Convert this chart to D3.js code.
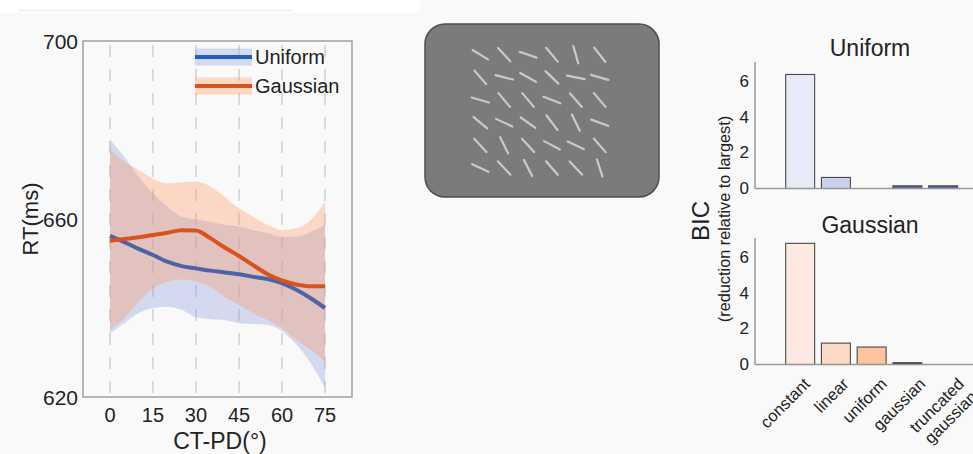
<!DOCTYPE html>
<html>
<head>
<meta charset="utf-8">
<script src="https://cdn.jsdelivr.net/npm/d3@7"></script>
<style>
  html, body { margin: 0; padding: 0; background: #f9f9f9; }
  svg { display: block; font-family: "Liberation Sans", Arial, sans-serif; }
</style>
</head>
<body>
<div id="chart"></div>
<script>
// ---- data: RT curves (CT-PD in degrees) ----
var ctpd = [0, 5, 10, 15, 20, 25, 30, 35, 40, 45, 50, 55, 60, 65, 70, 75];
var uniformMean  = [656.2, 654.8, 653.3, 651.9, 650.4, 649.4, 648.9, 648.4, 648.0, 647.6, 647.0, 646.5, 645.6, 644.1, 642.2, 640.0];
var uniformUpper = [677.8, 674.0, 669.5, 665.8, 662.8, 660.5, 659.9, 659.4, 658.7, 658.3, 657.5, 656.8, 656.0, 656.0, 657.1, 658.7];
var uniformLower = [634.3, 636.6, 638.8, 640.0, 640.3, 639.6, 637.9, 637.5, 637.3, 636.6, 636.4, 636.2, 634.8, 631.8, 627.6, 622.0];
var gaussianMean  = [655.1, 655.5, 655.9, 656.4, 656.9, 657.5, 657.4, 655.7, 653.6, 651.7, 649.6, 647.6, 646.2, 645.3, 644.9, 644.9];
var gaussianUpper = [675.7, 672.9, 671.0, 669.1, 668.0, 668.2, 668.4, 667.3, 665.0, 662.4, 660.5, 658.7, 657.5, 657.9, 659.8, 663.9];
var gaussianLower = [635.1, 637.7, 641.4, 644.4, 645.9, 646.4, 645.9, 644.8, 642.5, 640.7, 638.8, 637.3, 635.4, 632.8, 630.6, 627.9];
var xTicks = [0, 15, 30, 45, 60, 75];
var yTicks = [620, 660, 700];

// ---- data: stimulus orientations (deg from horizontal), 6 x 6 grid ----
var stimAngles = [
  [31, 47, 19, 50, 74, 52],
  [49, 14, 29, 44, 11, 16],
  [16, 50, 50, 21, 49, 50],
  [40, 25, 35, 53, 64, 20],
  [47, 64, 47, 28, 25, 49],
  [25, 47, 63, 49, 47, 72]
];

// ---- data: BIC bars ----
var models = ["constant", "linear", "uniform", "gaussian", "truncated gaussian"];
var uniformBIC  = [6.4, 0.62, 0, 0.15, 0.15];
var gaussianBIC = [6.8, 1.2, 0.98, 0.1, 0];
var bicTicks = [0, 2, 4, 6];

var uniformColors  = ["#e9eaf8", "#ccd2ee", "#9aa6d6", "#4d6198", "#4d6198"];
var gaussianColors = ["#fde9df", "#fddac6", "#fdc49e", "#3b2b26", "#3b2b26"];

var width = 973, height = 454;

var svg = d3.select("#chart").append("svg")
    .attr("width", width)
    .attr("height", height);

svg.append("rect").attr("width", width).attr("height", height).attr("fill", "#f9f9f9");
// white strip at the top left
svg.append("rect").attr("x", 0).attr("y", 0).attr("width", 420).attr("height", 13).attr("fill", "#ffffff");
svg.append("line").attr("x1", 18).attr("x2", 293).attr("y1", 10.5).attr("y2", 10.5)
    .attr("stroke", "#ececec").attr("stroke-width", 1.5);

// ================= left: RT curves =================
var x = d3.scaleLinear().domain([-9.4, 84.4]).range([83, 352]);
var y = d3.scaleLinear().domain([620, 700]).range([397, 41]);

var left = svg.append("g");

// dashed grid at the x ticks
left.selectAll(".grid")
    .data(xTicks)
    .enter().append("line")
    .attr("class", "grid")
    .attr("x1", function (d) { return x(d); })
    .attr("x2", function (d) { return x(d); })
    .attr("y1", y(700) + 4)
    .attr("y2", y(620))
    .attr("stroke", "#cfcfcf")
    .attr("stroke-width", 1.5)
    .attr("stroke-dasharray", "12,12");

function rows(mean, lo, hi) {
    return ctpd.map(function (c, i) {
        return { x: c, m: mean[i], lo: lo[i], hi: hi[i] };
    });
}
var uniRows = rows(uniformMean, uniformLower, uniformUpper);
var gauRows = rows(gaussianMean, gaussianLower, gaussianUpper);

var band = d3.area()
    .x(function (d) { return x(d.x); })
    .y0(function (d) { return y(d.lo); })
    .y1(function (d) { return y(d.hi); })
    .curve(d3.curveMonotoneX);

var meanLine = d3.line()
    .x(function (d) { return x(d.x); })
    .y(function (d) { return y(d.m); })
    .curve(d3.curveMonotoneX);

left.append("path").datum(uniRows).attr("d", band)
    .attr("fill", "rgb(139,159,221)").attr("fill-opacity", 0.35);
left.append("path").datum(gauRows).attr("d", band)
    .attr("fill", "rgb(255,153,101)").attr("fill-opacity", 0.35);

left.append("path").datum(uniRows).attr("d", meanLine)
    .attr("fill", "none").attr("stroke", "#4c63a6").attr("stroke-width", 4);
left.append("path").datum(gauRows).attr("d", meanLine)
    .attr("fill", "none").attr("stroke", "#d9531a").attr("stroke-width", 4);

// box
left.append("rect")
    .attr("x", x.range()[0]).attr("y", y(700))
    .attr("width", x.range()[1] - x.range()[0])
    .attr("height", y(620) - y(700))
    .attr("fill", "none").attr("stroke", "#9a9a9a").attr("stroke-width", 1.4);

// tick labels
left.selectAll(".xt").data(xTicks).enter().append("text")
    .attr("x", function (d) { return x(d); })
    .attr("y", 415)
    .attr("text-anchor", "middle")
    .attr("dominant-baseline", "central")
    .attr("font-size", 20)
    .attr("fill", "#222")
    .text(function (d) { return d; });

left.selectAll(".yt").data(yTicks).enter().append("text")
    .attr("x", 78)
    .attr("y", function (d) { return y(d); })
    .attr("text-anchor", "end")
    .attr("dominant-baseline", "central")
    .attr("font-size", 21)
    .attr("fill", "#222")
    .text(function (d) { return d; });

left.append("text")
    .attr("x", 220).attr("y", 441)
    .attr("text-anchor", "middle").attr("dominant-baseline", "central")
    .attr("font-size", 23).attr("fill", "#222")
    .text("CT-PD(°)");

left.append("text")
    .attr("transform", "translate(30," + y(660) + ") rotate(-90)")
    .attr("text-anchor", "middle").attr("dominant-baseline", "central")
    .attr("font-size", 22).attr("fill", "#222")
    .text("RT(ms)");

// legend
var legendItems = [
    { name: "Uniform", line: "#1f5fbf", fill: "rgb(139,159,221)", y: 57 },
    { name: "Gaussian", line: "#d9531a", fill: "rgb(255,153,101)", y: 86 }
];
var lg = left.selectAll(".lg").data(legendItems).enter().append("g");
lg.append("rect")
    .attr("x", 195).attr("width", 57)
    .attr("y", function (d) { return d.y - 8.5; }).attr("height", 17)
    .attr("fill", function (d) { return d.fill; }).attr("fill-opacity", 0.35);
lg.append("line")
    .attr("x1", 195).attr("x2", 252)
    .attr("y1", function (d) { return d.y; }).attr("y2", function (d) { return d.y; })
    .attr("stroke", function (d) { return d.line; }).attr("stroke-width", 4);
lg.append("text")
    .attr("x", 255).attr("y", function (d) { return d.y; })
    .attr("dominant-baseline", "central")
    .attr("font-size", 20).attr("fill", "#222")
    .text(function (d) { return d.name; });

// ================= middle: stimulus =================
var stim = svg.append("g");
stim.append("rect")
    .attr("x", 425).attr("y", 24).attr("width", 234).attr("height", 173)
    .attr("rx", 20).attr("ry", 20)
    .attr("fill", "#7b7b7b").attr("stroke", "#4e4e4e").attr("stroke-width", 1.5);

var sx = d3.scaleLinear().domain([0, 5]).range([480.3, 599.7]);
var sy = d3.scaleLinear().domain([0, 5]).range([54.7, 168]);
var segHalf = 9;

var segs = [];
stimAngles.forEach(function (row, r) {
    row.forEach(function (a, c) { segs.push({ r: r, c: c, a: a }); });
});

stim.selectAll(".seg").data(segs).enter().append("line")
    .attr("x1", function (d) { return sx(d.c) - segHalf * Math.cos(d.a * Math.PI / 180); })
    .attr("y1", function (d) { return sy(d.r) - segHalf * Math.sin(d.a * Math.PI / 180); })
    .attr("x2", function (d) { return sx(d.c) + segHalf * Math.cos(d.a * Math.PI / 180); })
    .attr("y2", function (d) { return sy(d.r) + segHalf * Math.sin(d.a * Math.PI / 180); })
    .attr("stroke", "#c9c9c9").attr("stroke-width", 2.2).attr("stroke-linecap", "round");

// ================= right: BIC bars =================
var bx = d3.scaleBand().domain(models).range([782.3, 961]).paddingInner(0.19).paddingOuter(0.095);
var labelX = d3.scalePoint().domain(models).range([807, 961]);

function barPanel(values, colors, top, title, titleY, withLabels) {
    var by = d3.scaleLinear().domain([0, 7.1]).range([top + 126.5, top]);
    var g = svg.append("g");

    g.selectAll(".bar")
        .data(models.map(function (m, i) { return { m: m, v: values[i], c: colors[i] }; })
            .filter(function (d) { return d.v > 0; }))
        .enter().append("rect")
        .attr("x", function (d) { return bx(d.m); })
        .attr("width", bx.bandwidth())
        .attr("y", function (d) { return by(d.v); })
        .attr("height", function (d) { return by(0) - by(d.v); })
        .attr("fill", function (d) { return d.c; })
        .attr("stroke", "#4a4a4a").attr("stroke-width", 1.1);

    g.append("line")
        .attr("x1", 755).attr("x2", 985)
        .attr("y1", by(0)).attr("y2", by(0))
        .attr("stroke", "#9a9a9a").attr("stroke-width", 1.5);
    g.append("line")
        .attr("x1", 755).attr("x2", 755)
        .attr("y1", by(7.1)).attr("y2", by(0))
        .attr("stroke", "#9a9a9a").attr("stroke-width", 1.5);

    g.selectAll(".bt").data(bicTicks).enter().append("text")
        .attr("x", 749)
        .attr("y", function (d) { return by(d); })
        .attr("text-anchor", "end").attr("dominant-baseline", "central")
        .attr("font-size", 17).attr("fill", "#222")
        .text(function (d) { return d; });

    g.append("text")
        .attr("x", 870).attr("y", titleY)
        .attr("text-anchor", "middle").attr("dominant-baseline", "central")
        .attr("font-size", 23).attr("fill", "#222")
        .text(title);

    if (withLabels) {
        var lbl = g.selectAll(".xl").data(models).enter().append("text")
            .attr("transform", function (d) { return "translate(" + labelX(d) + ",381) rotate(-45)"; })
            .attr("text-anchor", "end")
            .attr("font-size", 16.5).attr("fill", "#222");
        lbl.each(function (d) {
            var parts = d.split(" ");
            var t = d3.select(this);
            parts.forEach(function (p, i) {
                t.append("tspan").attr("x", 0).attr("dy", i === 0 ? "0.35em" : "1.1em").text(p);
            });
        });
    }
}

barPanel(uniformBIC, uniformColors, 62, "Uniform", 48, false);
barPanel(gaussianBIC, gaussianColors, 238, "Gaussian", 225, true);

svg.append("text")
    .attr("transform", "translate(700,221) rotate(-90)")
    .attr("text-anchor", "middle").attr("dominant-baseline", "central")
    .attr("font-size", 24).attr("fill", "#222")
    .text("BIC");
svg.append("text")
    .attr("transform", "translate(724,219) rotate(-90)")
    .attr("text-anchor", "middle").attr("dominant-baseline", "central")
    .attr("font-size", 16.3).attr("fill", "#222")
    .text("(reduction relative to largest)");
</script>
</body>
</html>
